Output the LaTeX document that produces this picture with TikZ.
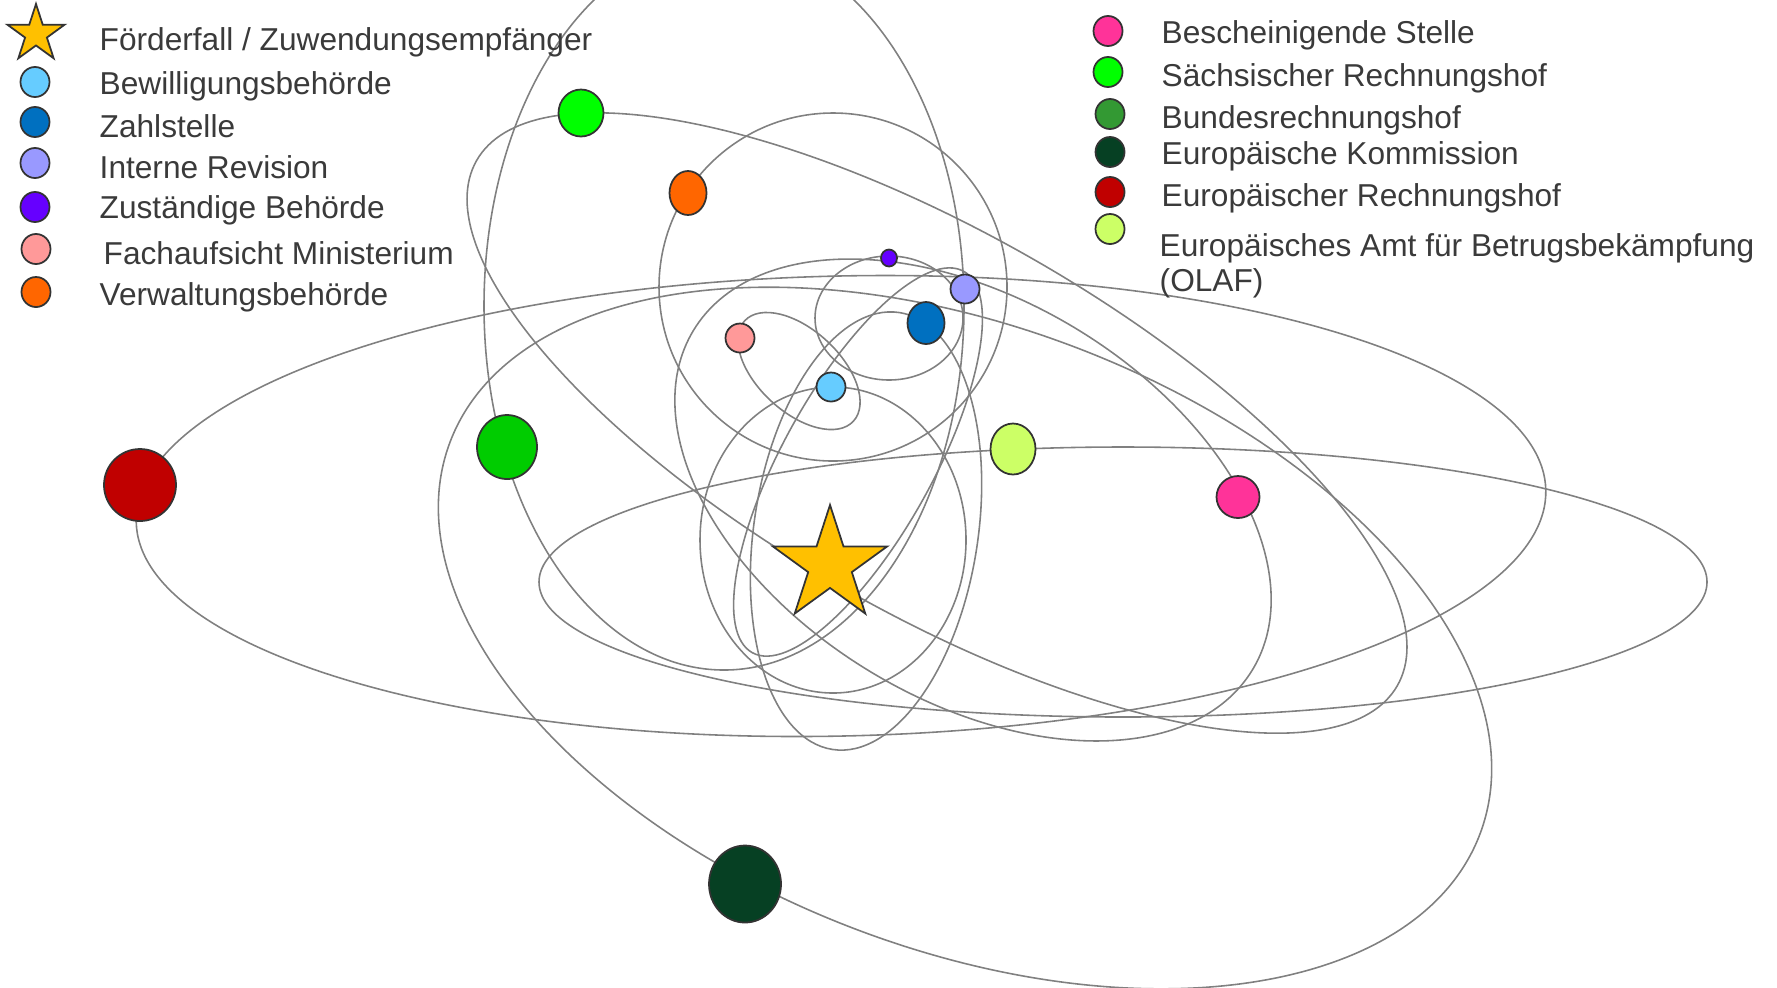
\documentclass[tikz,border=0pt]{standalone}
\usepackage{fontspec}
\setmainfont{Liberation Sans}
\usetikzlibrary{shapes.geometric}
\definecolor{orbitgray}{HTML}{808080}
\definecolor{rimgray}{HTML}{333333}
\definecolor{txtgray}{HTML}{3A3A3A}
\definecolor{cfoerder}{HTML}{FFC000}
\definecolor{cbewilligung}{HTML}{66CCFF}
\definecolor{czahl}{HTML}{0070C0}
\definecolor{crevision}{HTML}{9999FF}
\definecolor{czustaendig}{HTML}{6600FF}
\definecolor{cfach}{HTML}{FF9999}
\definecolor{cverwaltung}{HTML}{FF6600}
\definecolor{cbescheinigung}{HTML}{FF3399}
\definecolor{csrh}{HTML}{00FF00}
\definecolor{cbrh}{HTML}{339933}
\definecolor{cbrhplanet}{HTML}{00CC00}
\definecolor{cek}{HTML}{064023}
\definecolor{cerh}{HTML}{C00000}
\definecolor{colaf}{HTML}{CCFF66}

\begin{document}
\begin{tikzpicture}[x=0.01cm, y=-0.01cm,
 orbit/.style={draw=orbitgray, line width=0.45pt},
 planet/.style={ellipse, draw=rimgray, line width=0.5pt, inner sep=0pt},
 sun/.style={star, star points=5, star point ratio=2.618, draw=rimgray, line width=0.5pt, fill=cfoerder, inner sep=0pt},
 legtext/.style={anchor=base west, inner sep=0pt, text=txtgray, font=\fontsize{9}{11}\selectfont}]
\path[use as bounding box] (0,0) rectangle (1777,987);
\clip (0,0) rectangle (1777,987);
% orbits
\foreach \cx/\cy/\rx/\ry/\rot in {841/506/705/230/1.3, 1123/582/584/135/0, 965/638/551/311/-20.9,
 937/423/530/190/-29.7, 833/287/174/174/0, 724/306/240/364/0, 973/500/327/200/-31.3,
 799/371/74/41/-42.7, 833/540/133/153/0, 889/318/74/62/0, 866/531/112/221/-8.7, 858/462/218/75/61}
 \draw[orbit, rotate around={\rot:(\cx,\cy)}] (\cx,\cy) ellipse [x radius=\rx, y radius=\ry];
% planets
\node[sun, minimum size=1.2cm] (foerder) at (830,565) {};
\foreach \n/\x/\y/\w/\h/\c in {erh/140/485/72/72/cerh, olaf/1013/449/45/51/colaf, ek/745/884/72/77/cek,
 srh/581/113/45/47/csrh, verw/688/193/37/44/cverwaltung, brh/507/447/60/64/cbrhplanet,
 besch/1238/497/43/42/cbescheinigung, fach/740/338/29/29/cfach, bew/831/387/29/29/cbewilligung,
 zust/889/258/16/17/czustaendig, rev/965/289/29/29/crevision, zahl/926/323/37/42/czahl}
 \node[planet, fill=\c, minimum width=\w*0.01cm, minimum height=\h*0.01cm] (\n) at (\x,\y) {};
% legend
\node[sun, minimum size=0.6cm] (keyfoerder) at (36,34) {};
\node[legtext] (txtfoerder) at (99,50) {Förderfall / Zuwendungsempfänger};
\foreach \n/\kx/\y/\b/\tx/\c/\t in {bew/35/82/94/99/cbewilligung/Bewilligungsbehörde, zahl/35/122/137/99/czahl/Zahlstelle,
 rev/35/163/178/99/crevision/Interne Revision, zust/35/207/218/99/czustaendig/Zuständige Behörde,
 fach/36/249/264/103/cfach/Fachaufsicht Ministerium, verw/36/292/305/99/cverwaltung/Verwaltungsbehörde,
 besch/1108/31/43/1161/cbescheinigung/Bescheinigende Stelle, srh/1108/72/86/1161/csrh/Sächsischer Rechnungshof,
 brh/1110/114/128/1161/cbrh/Bundesrechnungshof, ek/1110/152/164/1161/cek/Europäische Kommission,
 erh/1110/192/206/1161/cerh/Europäischer Rechnungshof, olaf/1110/229/256/1159/colaf/Europäisches Amt für Betrugsbekämpfung}
{
 \node[planet, fill=\c, minimum width=0.29cm, minimum height=0.30cm] (key\n) at (\kx,\y) {};
 \node[legtext] (txt\n) at (\tx,\b) {\t};
}
\node[legtext] (txtolafb) at (1159,291) {(OLAF)};
\end{tikzpicture}
\end{document}
